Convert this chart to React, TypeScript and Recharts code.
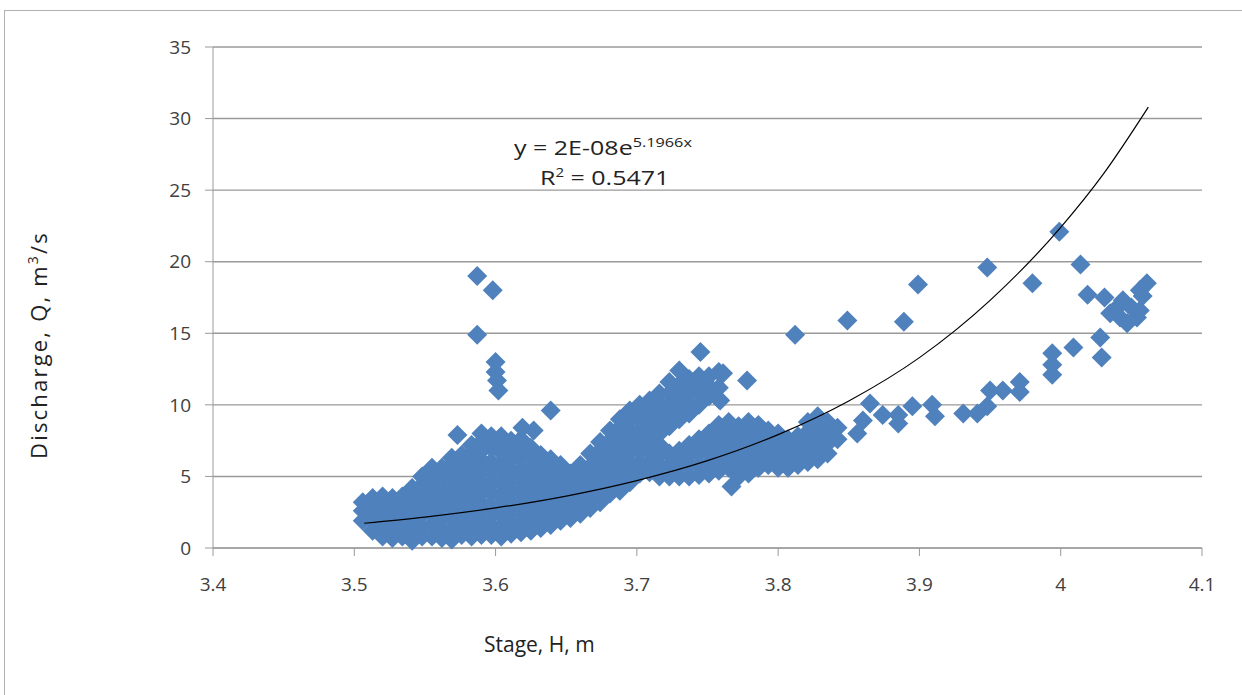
import { ScatterChart, Scatter, XAxis, YAxis, CartesianGrid } from "recharts";

// stage columns of the dense cloud and the discharges read in each column
const cloudStage = [
  3.506, 3.513, 3.52, 3.527, 3.534, 3.541, 3.548, 3.555, 3.562, 3.569, 3.576, 3.583, 3.59,
  3.597, 3.604, 3.611, 3.618, 3.625, 3.632, 3.639, 3.646, 3.653, 3.66, 3.667, 3.674, 3.681,
  3.688, 3.695, 3.702, 3.709, 3.716, 3.723, 3.73, 3.737, 3.744, 3.751, 3.758, 3.765, 3.772,
  3.779, 3.786, 3.793, 3.8, 3.807, 3.814, 3.821, 3.828, 3.835, 3.842,
];
const cloudDischarge = [
  [1.9, 2.6, 3.2],
  [1.2, 1.9, 2.7, 3.5],
  [0.8, 1.5, 2.3, 3.0, 3.6],
  [0.7, 1.4, 2.1, 2.8, 3.5],
  [0.8, 1.6, 2.3, 3.0, 3.6],
  [0.5, 1.2, 2.0, 2.7, 3.4, 4.2],
  [0.8, 1.5, 2.3, 3.0, 3.7, 4.4, 5.0],
  [0.8, 1.6, 2.4, 3.1, 3.9, 4.7, 5.6],
  [0.7, 1.4, 2.1, 2.9, 3.6, 4.3, 5.0, 5.6],
  [0.6, 1.3, 2.1, 2.8, 3.6, 4.3, 5.1, 5.8, 6.3],
  [0.9, 1.6, 2.4, 3.1, 3.9, 4.6, 5.4, 6.0, 6.5],
  [0.8, 1.5, 2.2, 3.0, 3.7, 4.4, 5.2, 5.9, 6.6, 7.2],
  [0.9, 1.6, 2.4, 3.1, 3.9, 4.6, 5.4, 6.1, 6.8, 7.4, 8.0],
  [0.9, 1.6, 2.3, 3.0, 3.8, 4.5, 5.3, 6.0, 7.0, 7.8],
  [0.8, 1.5, 2.3, 3.0, 3.7, 4.5, 5.2, 5.9, 6.7, 7.4, 7.8],
  [1.0, 1.7, 2.5, 3.2, 4.0, 4.7, 5.4, 6.2, 6.9, 7.5],
  [1.1, 1.8, 2.5, 3.3, 4.0, 4.8, 5.5, 6.3, 7.0, 7.6],
  [1.2, 1.9, 2.7, 3.4, 4.2, 4.9, 5.6, 6.3, 7.0],
  [1.4, 2.1, 2.9, 3.6, 4.4, 5.1, 5.8, 6.5],
  [1.6, 2.3, 3.0, 3.8, 4.5, 5.3, 6.2],
  [1.9, 2.6, 3.3, 4.1, 4.8, 5.5, 5.8],
  [2.1, 2.8, 3.6, 4.3, 5.0, 5.2],
  [2.4, 3.1, 3.9, 4.6, 5.3, 5.8],
  [2.8, 3.5, 4.2, 5.0, 5.7, 6.6],
  [3.2, 3.9, 4.7, 5.4, 6.1, 6.8, 7.4],
  [3.8, 4.5, 5.2, 6.0, 6.7, 7.5, 8.2],
  [4.0, 4.7, 5.5, 6.2, 6.9, 7.7, 8.4, 9.0],
  [4.6, 5.3, 6.0, 6.8, 7.5, 8.2, 9.0, 9.6],
  [5.2, 5.9, 6.7, 7.4, 8.1, 8.9, 9.6, 10.0],
  [5.3, 6.0, 6.8, 7.5, 8.3, 9.0, 9.7, 10.3],
  [5.0, 5.7, 6.5, 7.2, 8.0, 8.7, 9.4, 10.1, 10.8],
  [5.0, 5.8, 6.6, 8.5, 9.3, 10.0, 10.8, 11.6],
  [5.0, 5.7, 6.4, 6.8, 9.0, 9.8, 10.6, 11.4, 12.4],
  [5.0, 5.8, 6.5, 7.2, 9.4, 10.1, 10.9, 11.8],
  [5.1, 5.8, 6.6, 7.3, 7.6, 10.0, 10.8, 11.5, 12.0],
  [5.2, 5.9, 6.7, 7.4, 8.0, 10.6, 11.3, 12.0],
  [5.4, 6.1, 6.9, 7.6, 8.3, 8.6, 10.4, 11.2, 12.3],
  [5.6, 6.3, 7.1, 7.8, 8.5, 8.8],
  [5.0, 5.7, 6.4, 7.2, 7.9, 8.5],
  [5.2, 5.9, 6.7, 7.4, 8.1, 8.8],
  [5.6, 6.3, 7.1, 7.8, 8.6],
  [5.8, 6.5, 7.2, 7.9, 8.2],
  [5.6, 6.3, 7.0, 7.6, 8.0],
  [5.6, 6.3, 7.0, 7.6],
  [5.8, 6.5, 7.2, 7.8],
  [6.0, 6.7, 7.4, 8.1, 8.8],
  [6.2, 6.9, 7.7, 8.4, 9.2],
  [6.6, 7.3, 8.0, 8.8],
  [7.6, 8.4],
];

// scattered points outside the cloud
const otherStage = [
  3.573, 3.587, 3.598, 3.587, 3.6, 3.6, 3.601, 3.602, 3.639, 3.619, 3.627, 3.745, 3.778, 3.761,
  3.759, 3.767, 3.812, 3.849, 3.856, 3.86, 3.865, 3.874, 3.885, 3.885, 3.889, 3.895, 3.899,
  3.909, 3.911, 3.931, 3.941, 3.948, 3.948, 3.95, 3.959, 3.971, 3.971, 3.98, 3.994, 3.994,
  3.994, 3.999, 4.009, 4.014, 4.019, 4.028, 4.029, 4.031, 4.035, 4.04, 4.042, 4.044, 4.047,
  4.05, 4.054, 4.056, 4.056, 4.058, 4.061,
];
const otherDischarge = [
  7.9, 19.0, 18.0, 14.9, 13.0, 12.3, 11.7, 11.0, 9.6, 8.4, 8.2, 13.7, 11.7, 12.2,
  10.3, 4.3, 14.9, 15.9, 8.0, 8.9, 10.1, 9.3, 8.7, 9.3, 15.8, 9.9, 18.4,
  10.0, 9.2, 9.4, 9.4, 9.9, 19.6, 11.0, 11.0, 11.6, 10.9, 18.5, 12.1, 12.8,
  13.6, 22.1, 14.0, 19.8, 17.7, 14.7, 13.3, 17.5, 16.4, 16.8, 16.1, 17.3, 15.7,
  16.8, 16.1, 16.6, 18.0, 17.6, 18.5,
];

// exponential trendline
const trendStage = [3.507, 3.55, 3.6, 3.65, 3.7, 3.75, 3.8, 3.85, 3.9, 3.95, 4.0, 4.03, 4.062];
const trendDischarge = [1.73, 2.16, 2.8, 3.63, 4.71, 6.1, 7.92, 10.27, 13.3, 17.3, 22.4, 26.1, 30.8];

const xTicks = [3.4, 3.5, 3.6, 3.7, 3.8, 3.9, 4, 4.1];
const yTicks = [0, 5, 10, 15, 20, 25, 30, 35];

const points = [
  ...cloudStage.flatMap((s, i) => cloudDischarge[i].map((q) => ({ stage: s, q }))),
  ...otherStage.map((s, i) => ({ stage: s, q: otherDischarge[i] })),
];
const trend = trendStage.map((s, i) => ({ stage: s, q: trendDischarge[i] }));

const BLUE = "#4F81BD";
const GRID = "#9a9a9a";
const TXT = "#404040";
const FONT = "'Open Sans', sans-serif";

const Diamond = (p: any) => {
  const { cx, cy } = p;
  if (cx == null || cy == null) return null;
  const r = 10;
  return <polygon points={`${cx},${cy - r} ${cx + r},${cy} ${cx},${cy + r} ${cx - r},${cy}`} fill={BLUE} />;
};

const sup = (fs: number, top: number) => ({ position: "relative" as const, top, fontSize: fs });

export default function App() {
  return (
    <div style={{ position: "absolute", left: 0, top: 0, width: 1242, height: 695, background: "#fff", overflow: "hidden", fontFamily: FONT }}>
      <div style={{ position: "absolute", left: 4, top: 10, width: 1260, height: 720, border: "1px solid #b0b0b0" }} />
      <ScatterChart width={1242} height={695} margin={{ top: 47, right: 40, bottom: 117, left: 153 }}>
        <CartesianGrid horizontal vertical={false} stroke={GRID} strokeWidth={1.4} />
        <XAxis
          type="number"
          dataKey="stage"
          domain={[3.4, 4.1]}
          ticks={xTicks}
          allowDataOverflow
          height={30}
          tickSize={8}
          tickMargin={22}
          stroke={GRID}
          tick={{ fill: TXT, fontSize: 19, fontFamily: FONT }}
          tickFormatter={(v) => String(v)}
        />
        <YAxis
          type="number"
          dataKey="q"
          domain={[0, 35]}
          ticks={yTicks}
          width={60}
          tickSize={8}
          tickMargin={14}
          stroke={GRID}
          tick={{ fill: TXT, fontSize: 19, fontFamily: FONT }}
        />
        <Scatter data={points} shape={Diamond} isAnimationActive={false} />
        <Scatter
          data={trend}
          line={{ stroke: "#000", strokeWidth: 1.2 }}
          lineJointType="monotoneX"
          shape={() => null}
          isAnimationActive={false}
        />
      </ScatterChart>
      <div
        style={{
          position: "absolute",
          left: 514,
          top: 134,
          fontSize: 20,
          color: "#222",
          whiteSpace: "nowrap",
          transform: "scaleX(1.25)",
          transformOrigin: "left top",
        }}
      >
        y = 2E-08e<span style={sup(13, -8)}>5.1966x</span>
      </div>
      <div
        style={{
          position: "absolute",
          left: 540,
          top: 164,
          fontSize: 20,
          color: "#222",
          whiteSpace: "nowrap",
          transform: "scaleX(1.25)",
          transformOrigin: "left top",
        }}
      >
        R<span style={sup(12, -8)}>2</span> = 0.5471
      </div>
      <div style={{ position: "absolute", left: 484, top: 630, fontSize: 21, color: "#222", whiteSpace: "nowrap" }}>
        Stage, H, m
      </div>
      <div
        style={{
          position: "absolute",
          left: 38,
          top: 345,
          fontSize: 22,
          letterSpacing: 2.2,
          color: "#222",
          whiteSpace: "nowrap",
          transform: "translate(-50%, -50%) rotate(-90deg)",
        }}
      >
        Discharge, Q, m<span style={sup(14, -9)}>3</span>/s
      </div>
    </div>
  );
}
